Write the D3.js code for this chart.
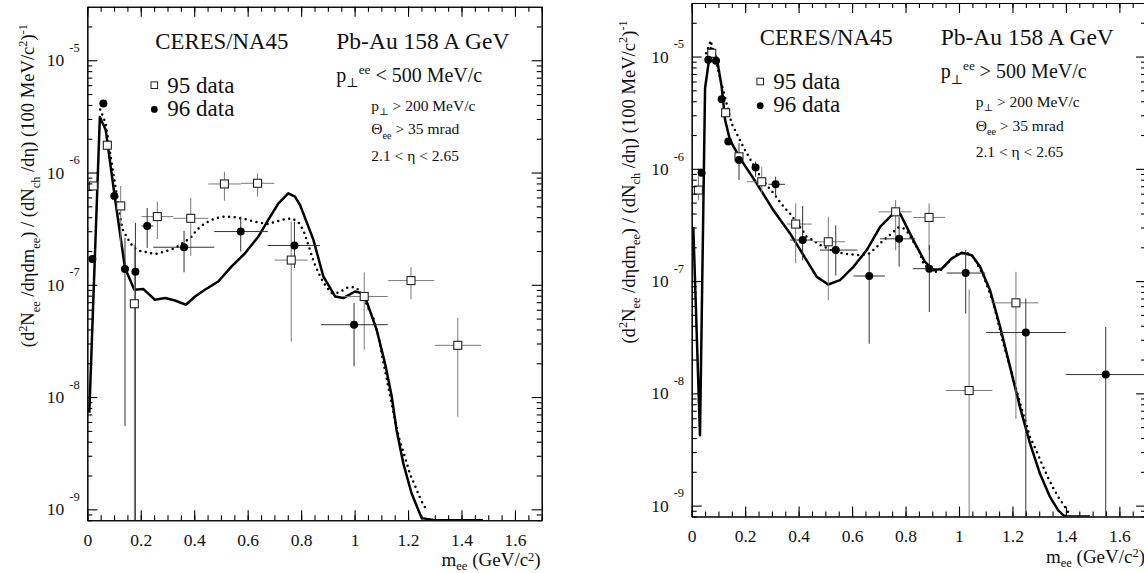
<!DOCTYPE html>
<html>
<head>
<meta charset="utf-8">
<script src="https://cdn.jsdelivr.net/npm/d3@7"></script>
<style>
    body { margin: 0; background: #fff; }
    svg text { font-family: "Liberation Serif", "DejaVu Serif", serif; fill: #111; }
</style>
</head>
<body>
<div id="chart"></div>
<script>

// axis ticks
const massTickValues = [0, 0.2, 0.4, 0.6, 0.8, 1.0, 1.2, 1.4, 1.6];
const massTickLabels = ["0", "0.2", "0.4", "0.6", "0.8", "1", "1.2", "1.4", "1.6"];
const decadeExponents = [-5, -6, -7, -8, -9];

// model curves: [m_ee (GeV/c^2), yield]
const lowPtSolid = [[0.0075,7.24e-9],[0.047,3.13e-6],[0.069,2.39e-6],[0.101,6.53e-7],[0.141,1.41e-7],[0.176,9.03e-8],
    [0.21,9.16e-8],[0.253,7.36e-8],[0.291,7.62e-8],[0.328,7.24e-8],[0.369,6.64e-8],[0.403,7.87e-8],[0.44,9.03e-8],
    [0.49,1.07e-7],[0.54,1.46e-7],[0.59,1.91e-7],[0.64,2.69e-7],[0.677,3.78e-7],[0.715,5.32e-7],[0.752,6.53e-7],
    [0.777,6.10e-7],[0.796,5.14e-7],[0.846,2.51e-7],[0.883,1.19e-7],[0.927,7.87e-8],[0.958,7.62e-8],[1.001,8.71e-8],
    [1.027,8.43e-8],[1.045,7.11e-8],[1.083,3.94e-8],[1.114,1.99e-8],[1.139,1.01e-8],[1.157,5.09e-9],[1.182,2.58e-9],
    [1.213,1.39e-9],[1.251,8.35e-10],[1.30,5e-10],[1.48,5e-10]];
const lowPtDotted = [[0.048,3.65e-6],[0.069,2.74e-6],[0.089,1.31e-6],[0.131,3.15e-7],[0.150,2.60e-7],[0.172,2.16e-7],
    [0.191,2.02e-7],[0.228,1.94e-7],[0.253,1.87e-7],[0.291,1.98e-7],[0.328,2.12e-7],[0.366,2.43e-7],[0.391,2.69e-7],
    [0.409,3.08e-7],[0.44,3.53e-7],[0.478,3.92e-7],[0.515,4.05e-7],[0.553,4.00e-7],[0.59,3.84e-7],[0.64,3.58e-7],
    [0.677,3.48e-7],[0.727,3.78e-7],[0.765,3.92e-7],[0.789,3.63e-7],[0.808,3.08e-7],[0.831,2.12e-7],[0.849,1.56e-7],
    [0.871,1.19e-7],[0.893,9.66e-8],[0.914,8.43e-8],[0.945,8.55e-8],[0.968,9.35e-8],[0.989,9.55e-8],[1.008,9.35e-8],
    [1.033,7.87e-8],[1.051,6.21e-8],[1.07,5.06e-8],[1.089,3.47e-8],[1.107,2.08e-8],[1.126,1.23e-8],[1.145,7.33e-9],
    [1.166,4.34e-9],[1.189,2.88e-9],[1.207,2.07e-9],[1.229,1.56e-9],[1.248,1.21e-9],[1.270,9.79e-10]];
const highPtSolid = [[0.006,3.03e-7],[0.031,4.23e-9],[0.050,5.22e-6],[0.071,1.19e-5],[0.094,9.68e-6],[0.112,5.40e-6],
    [0.125,2.72e-6],[0.143,1.81e-6],[0.181,1.24e-6],[0.243,7.43e-7],[0.305,4.29e-7],[0.368,2.66e-7],[0.43,1.53e-7],
    [0.468,1.09e-7],[0.511,9.33e-8],[0.555,1.02e-7],[0.605,1.34e-7],[0.655,1.89e-7],[0.705,3.04e-7],[0.755,4.01e-7],
    [0.779,4.01e-7],[0.829,2.32e-7],[0.873,1.48e-7],[0.904,1.25e-7],[0.936,1.29e-7],[0.973,1.59e-7],[1.010,1.79e-7],
    [1.048,1.70e-7],[1.079,1.34e-7],[1.116,8.30e-8],[1.154,3.90e-8],[1.191,1.72e-8],[1.228,7.55e-9],[1.266,3.56e-9],
    [1.303,1.92e-9],[1.341,1.19e-9],[1.372,9.04e-10],[1.391,8.17e-10],[1.40,5e-10],[1.49,5e-10]];
const highPtDotted = [[0.054,1.07e-5],[0.071,1.39e-5],[0.109,6.07e-6],[0.15,2.51e-6],[0.171,2.00e-6],[0.191,1.60e-6],
    [0.212,1.30e-6],[0.249,9.12e-7],[0.29,6.70e-7],[0.312,5.83e-7],[0.33,5.09e-7],[0.349,4.45e-7],[0.37,3.95e-7],
    [0.39,3.37e-7],[0.412,2.88e-7],[0.43,2.48e-7],[0.453,2.32e-7],[0.474,2.13e-7],[0.536,1.82e-7],[0.58,1.74e-7],
    [0.63,1.70e-7],[0.661,1.74e-7],[0.686,1.95e-7],[0.711,2.24e-7],[0.736,2.51e-7],[0.755,2.75e-7],[0.773,3.01e-7],
    [0.792,2.95e-7],[0.811,2.66e-7],[0.829,2.24e-7],[0.848,1.91e-7],[0.869,1.39e-7],[0.911,1.21e-7],[0.929,1.23e-7],
    [0.967,1.53e-7],[0.992,1.74e-7],[1.029,1.79e-7],[1.054,1.64e-7],[1.091,1.13e-7],[1.129,6.31e-8],[1.166,2.77e-8],
    [1.198,1.50e-8],[1.229,8.09e-9],[1.266,4.07e-9],[1.289,3.10e-9],[1.31,2.36e-9],[1.331,1.82e-9],[1.351,1.46e-9],
    [1.372,1.19e-9],[1.391,1.02e-9],[1.409,8.73e-10]];

// measured points: [m, yield, mLo, mHi, yieldLo, yieldHi]
const lowPt95 = [[0.0225,7.59e-7,0.0225,0.0225,7.1e-7,8.1e-7],[0.075,1.75e-6,0.075,0.075,1.65e-6,1.85e-6],
    [0.125,5.04e-7,0.125,0.125,2.19e-7,7.59e-7],[0.176,6.78e-8,0.176,0.176,1e-10,2.27e-7],
    [0.262,4.05e-7,0.203,0.322,2.55e-7,5.50e-7],[0.387,3.91e-7,0.322,0.453,1.81e-7,5.97e-7],
    [0.513,7.91e-7,0.453,0.575,5.61e-7,1.016e-6],[0.637,8.02e-7,0.575,0.70,6.10e-7,9.84e-7],
    [0.763,1.66e-7,0.70,0.825,3.11e-8,3.66e-7],[1.036,7.87e-8,0.958,1.124,2.64e-8,1.29e-7],
    [1.211,1.09e-7,1.126,1.298,7.46e-8,1.44e-7],[1.386,2.89e-8,1.30,1.473,6.67e-9,5.06e-8]];
const lowPt96 = [[0.019,1.70e-7,0.019,0.019,1.6e-7,1.8e-7],[0.060,4.12e-6,0.060,0.060,3.9e-6,4.3e-6],
    [0.101,6.18e-7,0.101,0.101,5.8e-7,6.6e-7],[0.141,1.38e-7,0.141,0.141,5.50e-9,2.63e-7],
    [0.180,1.31e-7,0.180,0.180,1e-10,3.56e-7],[0.224,3.34e-7,0.203,0.247,2.13e-7,4.83e-7],
    [0.362,2.16e-7,0.247,0.475,1.29e-7,3.02e-7],[0.574,2.98e-7,0.475,0.675,1.98e-7,4.05e-7],
    [0.775,2.24e-7,0.675,0.87,1.41e-7,3.66e-7],[0.998,4.41e-8,0.874,1.124,1.88e-8,6.87e-8]];
const highPt95 = [[0.025,6.47e-7,0.025,0.025,5.27e-7,1.01e-6],[0.075,1.07e-5,0.075,0.075,1.0e-5,1.14e-5],
    [0.127,3.16e-6,0.127,0.127,3.0e-6,3.3e-6],[0.177,1.28e-6,0.177,0.177,1.2e-6,1.37e-6],
    [0.262,7.67e-7,0.206,0.274,6.04e-7,1.04e-6],[0.389,3.22e-7,0.356,0.449,1.44e-7,4.92e-7],
    [0.511,2.24e-7,0.455,0.574,6.76e-8,3.74e-7],[0.763,4.14e-7,0.699,0.823,1.89e-7,5.27e-7],
    [0.888,3.69e-7,0.829,0.948,1.89e-7,4.92e-7],[1.038,1.06e-8,0.951,1.125,1e-10,8.41e-8],
    [1.213,6.40e-8,1.129,1.297,5.94e-9,1.21e-7]];
const highPt96 = [[0.037,9.23e-7,0.037,0.037,8.8e-7,9.7e-7],[0.062,9.35e-6,0.062,0.062,8.9e-6,9.8e-6],
    [0.091,9.16e-6,0.091,0.091,8.7e-6,9.6e-6],[0.112,4.17e-6,0.112,0.112,4.0e-6,4.4e-6],
    [0.137,1.75e-6,0.137,0.137,1.65e-6,1.85e-6],[0.177,1.20e-6,0.177,0.177,7.94e-7,1.69e-6],
    [0.239,1.03e-6,0.239,0.239,8.51e-7,1.16e-6],[0.314,7.28e-7,0.287,0.349,5.83e-7,8.51e-7],
    [0.415,2.32e-7,0.368,0.453,1.53e-7,4.66e-7],[0.539,1.89e-7,0.48,0.62,1.12e-7,3.14e-7],
    [0.664,1.11e-7,0.605,0.723,2.77e-8,1.76e-7],[0.776,2.38e-7,0.705,0.836,1.34e-7,3.74e-7],
    [0.889,1.29e-7,0.827,0.936,5.31e-8,2.09e-7],[1.025,1.18e-7,0.954,1.098,5.14e-8,1.89e-7],
    [1.25,3.48e-8,1.101,1.40,1e-10,7.00e-8],[1.549,1.47e-8,1.40,1.75,1e-10,3.90e-8]];

const cutLabels = ["< 500 MeV/c", "> 500 MeV/c"];


// writes a text made of plain / sub / sup pieces
function richText(sel, x, y, size, parts, supRise = 0.4, subDrop = 0.28) {
    let t = sel.append('text')
        .attr('x', x)
        .attr('y', y)
        .style('font-size', size + 'px');
    let shift = 0;
    parts.forEach(([str, kind]) => {
        let target = kind === 'sub' ? subDrop * size : kind === 'sup' ? -supRise * size : 0;
        t.append('tspan')
            .attr('dy', target - shift)
            .style('font-size', (kind ? 0.66 * size : size) + 'px')
            .text(str);
        shift = target;
    });
    return t;
}


class SpectrumPanel {

    constructor(svg, layout, solid, dotted, data95, data96, cutLabel) {
        this.svg = svg;
        this.layout = layout;
        this.solid = solid;
        this.dotted = dotted;
        this.data95 = data95;
        this.data96 = data96;
        this.cutLabel = cutLabel;

        this.initVis()
    }

    initVis() {
        let vis = this;

        vis.width = 454.4;
        vis.height = 513.5;

        vis.g = vis.svg.append('g')
            .attr('transform', `translate(${vis.layout.left}, ${vis.layout.top})`);

        vis.x = d3.scaleLinear().domain([0, 1.7]).range([0, vis.width]);
        vis.y = d3.scaleLog().domain([8e-10, 3e-5]).range([vis.height, 0]);
        // curves sit on the bottom axis once they drop below the range
        vis.yCurve = vis.y.copy().clamp(true);

        vis.g.append('clipPath')
            .attr('id', vis.layout.id + '-clip')
            .append('rect')
            .attr('width', vis.width)
            .attr('height', vis.height);

        vis.plot = vis.g.append('g')
            .attr('clip-path', `url(#${vis.layout.id}-clip)`);

        vis.drawCurves();
        vis.drawPoints();
        vis.drawAxes();
        vis.drawText();
    }

    drawAxes() {
        let vis = this;

        let minorMass = d3.range(0, 1.71, 0.05);
        let majorYield = decadeExponents.map(e => Math.pow(10, e));
        let minorYield = [];
        d3.range(-10, -4).forEach(e => {
            d3.range(2, 10).forEach(k => {
                let v = k * Math.pow(10, e);
                if (v >= 8e-10 && v <= 3e-5) minorYield.push(v);
            })
        });

        let axes = [
            {axis: d3.axisBottom, scale: vis.x, at: `translate(0, ${vis.height})`, major: massTickValues, minor: minorMass, labels: true},
            {axis: d3.axisTop, scale: vis.x, at: 'translate(0, 0)', major: massTickValues, minor: minorMass},
            {axis: d3.axisLeft, scale: vis.y, at: 'translate(0, 0)', major: majorYield, minor: minorYield},
            {axis: d3.axisRight, scale: vis.y, at: `translate(${vis.width}, 0)`, major: majorYield, minor: minorYield}
        ];

        axes.forEach(a => {
            vis.g.append('g')
                .attr('class', 'axis minor')
                .attr('transform', a.at)
                .call(a.axis(a.scale).tickValues(a.minor).tickSizeInner(-5).tickSizeOuter(0).tickFormat(''));

            let major = a.axis(a.scale).tickValues(a.major).tickSizeInner(-10).tickSizeOuter(0);
            if (a.labels) {
                major.tickFormat((d, i) => massTickLabels[i]).tickPadding(13.3);
            } else {
                major.tickFormat('');
            }
            vis.g.append('g')
                .attr('class', 'axis major')
                .attr('transform', a.at)
                .call(major);
        });

        vis.g.selectAll('.axis')
            .attr('font-family', null)
            .attr('font-size', null)
            .style('color', '#000');
        vis.g.selectAll('.axis path, .axis line').attr('stroke-width', 1.1);
        vis.g.selectAll('.axis.major text').style('font-size', '17.5px');

        // decade labels: 10 with a raised exponent
        vis.g.selectAll('.decade-base')
            .data(decadeExponents)
            .enter()
            .append('text')
            .attr('class', 'decade-base')
            .attr('x', -23)
            .attr('y', d => vis.y(Math.pow(10, d)) + 6)
            .attr('text-anchor', 'end')
            .style('font-size', '17.5px')
            .text('10');

        vis.g.selectAll('.decade-exp')
            .data(decadeExponents)
            .enter()
            .append('text')
            .attr('class', 'decade-exp')
            .attr('x', -18)
            .attr('y', d => vis.y(Math.pow(10, d)) - 8.3)
            .style('font-size', '12.5px')
            .text(d => '-' + Math.abs(d));
    }

    drawCurves() {
        let vis = this;

        vis.line = d3.line()
            .x(d => vis.x(d[0]))
            .y(d => vis.yCurve(d[1]));

        vis.plot.append('path')
            .datum(vis.solid)
            .attr('fill', 'none')
            .attr('stroke', '#000')
            .attr('stroke-width', 2.5)
            .attr('stroke-linejoin', 'round')
            .attr('d', vis.line);

        vis.plot.append('path')
            .datum(vis.dotted)
            .attr('fill', 'none')
            .attr('stroke', '#000')
            .attr('stroke-width', 2.5)
            .attr('stroke-linecap', 'round')
            .attr('stroke-dasharray', '0 5.6')
            .attr('d', vis.line);
    }

    drawPoints() {
        let vis = this;

        let sets = [
            {data: vis.data95, color: '#7a7a7a'},
            {data: vis.data96, color: '#333'}
        ];

        sets.forEach(s => {
            let bars = vis.plot.append('g')
                .attr('stroke', s.color)
                .attr('stroke-width', 1);

            bars.selectAll('.xerr')
                .data(s.data.filter(d => d[3] > d[2]))
                .enter()
                .append('line')
                .attr('x1', d => vis.x(d[2]))
                .attr('x2', d => vis.x(d[3]))
                .attr('y1', d => vis.y(d[1]))
                .attr('y2', d => vis.y(d[1]));

            bars.selectAll('.yerr')
                .data(s.data)
                .enter()
                .append('line')
                .attr('x1', d => vis.x(d[0]))
                .attr('x2', d => vis.x(d[0]))
                .attr('y1', d => vis.y(d[4]))
                .attr('y2', d => vis.y(d[5]));
        });

        vis.plot.selectAll('.sq')
            .data(vis.data95)
            .enter()
            .append('rect')
            .attr('x', d => vis.x(d[0]) - 4)
            .attr('y', d => vis.y(d[1]) - 4)
            .attr('width', 8)
            .attr('height', 8)
            .attr('fill', '#fff')
            .attr('stroke', '#222')
            .attr('stroke-width', 1.1);

        vis.plot.selectAll('.dot')
            .data(vis.data96)
            .enter()
            .append('circle')
            .attr('cx', d => vis.x(d[0]))
            .attr('cy', d => vis.y(d[1]))
            .attr('r', 4)
            .attr('fill', '#000');
    }

    drawText() {
        let vis = this;
        let L = vis.layout;

        richText(vis.g, 68, 42, 22.8, [['CERES/NA45', '']]);
        richText(vis.g, 249, 42.3, 23.5, [['Pb-Au 158 A\u2009GeV', '']]);
        richText(vis.g, 249, 75.2, 20, [['p', ''], ['\u22a5', 'sub'], ['ee', 'sup'], [' ' + vis.cutLabel, '']]);
        richText(vis.g, 284, 104, 15.5, [['p', ''], ['\u22a5', 'sub'], [' > 200 MeV/c', '']]);
        richText(vis.g, 284, 127.7, 15.5, [['\u0398', ''], ['ee', 'sub'], [' > 35 mrad', '']]);
        richText(vis.g, 284, 154, 15.5, [['2.1 < \u03b7 < 2.65', '']]);

        // legend
        vis.g.append('rect')
            .attr('x', L.legendX - 3.3)
            .attr('y', 78.5 - 3.3)
            .attr('width', 6.6)
            .attr('height', 6.6)
            .attr('fill', '#fff')
            .attr('stroke', '#222');
        vis.g.append('circle')
            .attr('cx', L.legendX)
            .attr('cy', 102.7)
            .attr('r', 3.4)
            .attr('fill', '#000');
        richText(vis.g, L.legendX + 13, 86, 23, [['95 data', '']]);
        richText(vis.g, L.legendX + 13, 109.3, 23, [['96 data', '']]);

        // axis titles
        richText(vis.g, vis.width - 1, vis.height + 46.3, 19,
            [['m', ''], ['ee', 'sub'], [' (GeV/c', ''], ['2', 'sup'], [')', '']], 0.3, 0.2)
            .attr('text-anchor', 'end');

        richText(vis.g, 0, 0, 18.6, [
            ['(d', ''], ['2', 'sup'], ['N', ''], ['ee', 'sub'], [' /d\u03b7dm', ''], ['ee', 'sub'],
            [') / (dN', ''], ['ch', 'sub'], [' /d\u03b7) (100 MeV/c', ''], ['2', 'sup'], [')', ''], ['-1', 'sup']
        ])
            .attr('text-anchor', 'middle')
            .attr('transform', `translate(${L.titleX}, 179)`+' rotate(-90)');
    }
}


let svg = d3.select('#chart').append('svg')
    .attr('width', 1144)
    .attr('height', 573)
    .style('background', '#fff');

new SpectrumPanel(svg, {id: 'low', left: 87.3, top: 6.7, legendX: 67, titleX: -53}, lowPtSolid, lowPtDotted, lowPt95, lowPt96, cutLabels[0]);
new SpectrumPanel(svg, {id: 'high', left: 691.7, top: 3, legendX: 68.5, titleX: -57}, highPtSolid, highPtDotted, highPt95, highPt96, cutLabels[1]);

</script>
</body>
</html>
